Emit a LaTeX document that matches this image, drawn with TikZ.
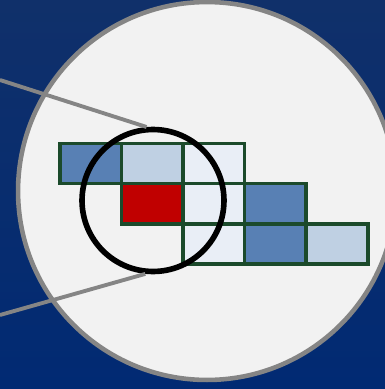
\documentclass[tikz,border=0pt]{standalone}
\usepackage{xcolor}
\usepackage{tikz}

\definecolor{bgtop}{HTML}{10306A}
\definecolor{bgbottom}{HTML}{012A73}
\definecolor{discgrey}{HTML}{F2F2F2}
\definecolor{rimgrey}{HTML}{858585}
\definecolor{gridgreen}{HTML}{1B4A2B}
\definecolor{midblue}{HTML}{5880B4}
\definecolor{paleblue}{HTML}{BFD0E3}
\definecolor{faintblue}{HTML}{E9EEF6}
\definecolor{hotred}{HTML}{C00000}

\begin{document}
\begin{tikzpicture}[
    x=0.02cm, y=-0.02cm,
    disc/.style={draw=rimgrey, fill=discgrey, circle, line width=2.6pt, minimum size=7.56cm, inner sep=0pt},
    cell/.style={draw=gridgreen, line width=2pt, rectangle, minimum width=1.232cm, minimum height=0.806cm, inner sep=0pt, anchor=north west},
    lens/.style={draw=black, circle, line width=3.2pt, minimum size=2.84cm, inner sep=0pt},
    zoomline/.style={draw=rimgrey, line width=2.2pt}
]
% Background
\clip (0,0) rectangle (385,389);
\shade[top color=bgtop, bottom color=bgbottom] (0,0) rectangle (385,389);

% Magnified disc
\node[disc] (zoom) at (207,191) {};

% Cells
\node[cell, fill=midblue]   (c11) at (58,141.5) {};
\node[cell, fill=paleblue]  (c12) at (119.6,141.5) {};
\node[cell, fill=faintblue] (c13) at (181.2,141.5) {};
\node[cell, fill=hotred]    (c22) at (119.6,181.8) {};
\node[cell, fill=faintblue] (c23) at (181.2,181.8) {};
\node[cell, fill=midblue]   (c24) at (242.8,181.8) {};
\node[cell, fill=faintblue] (c33) at (181.2,222.1) {};
\node[cell, fill=midblue]   (c34) at (242.8,222.1) {};
\node[cell, fill=paleblue]  (c35) at (304.4,222.1) {};

% Lens
\node[lens] (lens) at (153,200.5) {};

% Zoom lines
\coordinate (topleft) at (0,80);
\coordinate (botleft) at (0,315);
\draw[zoomline] (topleft) -- (lens.95);
\draw[zoomline] (botleft) -- (lens.264);
\end{tikzpicture}
\end{document}
